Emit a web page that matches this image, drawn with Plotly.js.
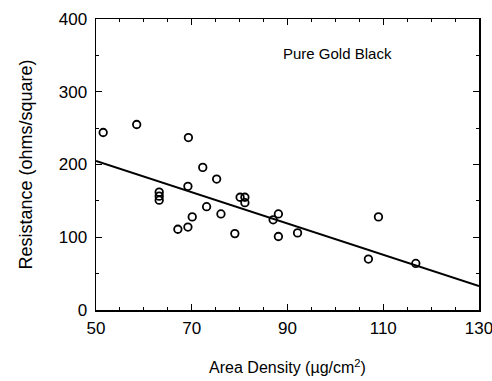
<!DOCTYPE html>
<html>
<head>
<meta charset="utf-8">
<script src="https://cdn.plot.ly/plotly-3.0.1.min.js"></script>
<style>html,body{margin:0;padding:0;background:#fff}#chart{width:492px;height:381px}</style>
</head>
<body>
<div id="chart"></div>
<script>
// Measured points: area density (µg/cm²) and sheet resistance (ohms/square)
const areaDensity = [51.5, 58.5, 69.3, 72.3, 75.2, 69.2, 63.2, 63.2, 63.2, 80.1, 81.1, 81.1, 73.1, 76.1, 70.1, 67.1, 69.2, 79.0, 87.0, 88.1, 88.1, 92.1, 106.9, 109.0, 116.8];
const resistance  = [244, 255, 237, 196, 180, 170, 162, 156.5, 151, 155, 155, 147.5, 142, 132, 128, 111, 114, 105, 124, 132, 101, 106, 70, 128, 64];
// Fit line end points
const fitX = [50, 130];
const fitY = [205, 33];
const xTicks = [50, 70, 90, 110, 130];
const yTicks = [0, 100, 200, 300, 400];

const font = {family: 'Liberation Sans, Arial, sans-serif', color: '#000'};

Plotly.newPlot('chart', [
  {x: fitX, y: fitY, mode: 'lines', line: {color: '#000', width: 2}, hoverinfo: 'skip'},
  {x: areaDensity, y: resistance, mode: 'markers',
   marker: {symbol: 'circle-open', size: 7.5, color: '#000', line: {width: 1.8, color: '#000'}}}
], {
  width: 492, height: 381,
  margin: {l: 96, r: 13, t: 19, b: 71},
  showlegend: false,
  paper_bgcolor: '#fff', plot_bgcolor: '#fff',
  font: Object.assign({size: 17}, font),
  xaxis: {
    range: [50, 130], tickvals: xTicks, ticktext: xTicks.map(String),
    showgrid: false, zeroline: false, showline: true, linecolor: '#000', linewidth: 1.5,
    mirror: 'ticks', ticks: 'inside', ticklen: 6, tickwidth: 1.3, tickcolor: '#000',
    minor: {dtick: 5, tick0: 50, ticks: 'inside', ticklen: 3, tickwidth: 1, tickcolor: '#000', showgrid: false},
    tickfont: {size: 17}, ticklabelstandoff: 2, ticklabeloverflow: 'allow',
    title: {text: 'Area Density (µg/cm<sup>2</sup>)', font: {size: 16}, standoff: 25}
  },
  yaxis: {
    range: [0, 400], tickvals: yTicks, ticktext: yTicks.map(String),
    showgrid: false, zeroline: false, showline: true, linecolor: '#000', linewidth: 1.5,
    mirror: 'ticks', ticks: 'inside', ticklen: 6, tickwidth: 1.3, tickcolor: '#000',
    minor: {dtick: 50, tick0: 0, ticks: 'inside', ticklen: 3, tickwidth: 1, tickcolor: '#000', showgrid: false},
    tickfont: {size: 17}, ticklabelstandoff: 4, ticklabeloverflow: 'allow',
    title: {text: 'Resistance (ohms/square)', font: {size: 18}, standoff: 21}
  },
  annotations: [{
    text: 'Pure Gold Black', xref: 'x', yref: 'y', x: 100.5, y: 352, showarrow: false,
    font: {size: 15, color: '#000'}
  }]
}, {displayModeBar: false, staticPlot: true});
</script>
</body>
</html>
